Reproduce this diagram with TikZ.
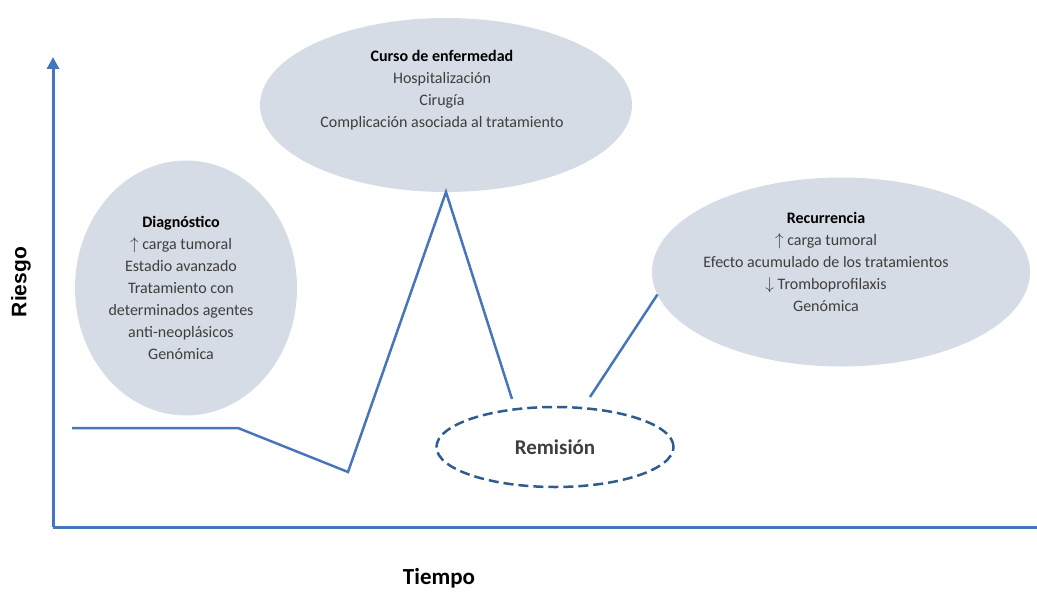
\documentclass[tikz,border=0pt]{standalone}
\usepackage{fontspec}
\setmainfont{Carlito}
\newfontfamily\axisfont{Liberation Sans}
\usetikzlibrary{shapes.geometric, arrows.meta, positioning}
\definecolor{lineblue}{RGB}{70,118,186}
\definecolor{bubblefill}{RGB}{214,220,229}
\definecolor{textgray}{RGB}{62,62,62}
\definecolor{dashblue}{RGB}{46,92,140}

\begin{document}
\begin{tikzpicture}[
    x=1pt, y=-1pt,
    bubble/.style={ellipse, fill=bubblefill, draw=none, inner sep=0pt, outer sep=0pt},
    info/.style={align=center, text=textgray, font=\fontsize{16}{22}\selectfont},
    riskline/.style={lineblue, line width=2.5pt},
    axis/.style={lineblue, line width=3pt},
    axislabel/.style={font=\fontsize{23}{26}\selectfont\bfseries}
]
\useasboundingbox (0,0) rectangle (1037,594);

\node[bubble, minimum width=222pt, minimum height=255pt] (diag) at (186,288) {};
\node[bubble, minimum width=372pt, minimum height=174pt] (curso) at (446,105) {};
\node[bubble, minimum width=378pt, minimum height=189pt] (recur) at (841,272) {};

\node[info] (diagtext) at (181,288) {\textbf{\textcolor{black}{Diagnóstico}}\\ $\uparrow$ carga tumoral\\ Estadio avanzado\\ Tratamiento con\\ determinados agentes\\ anti-neoplásicos\\ Genómica};
\node[info] (cursotext) at (442,90) {\textbf{\textcolor{black}{Curso de enfermedad}}\\ Hospitalización\\ Cirugía\\ Complicación asociada al tratamiento};
\node[info] (recurtext) at (826,262) {\textbf{\textcolor{black}{Recurrencia}}\\ $\uparrow$ carga tumoral\\ Efecto acumulado de los tratamientos\\ $\downarrow$ Tromboprofilaxis\\ Genómica};

\node[ellipse, draw=dashblue, dashed, dash pattern=on 10pt off 5pt, line width=2.5pt, minimum width=237pt, minimum height=80pt, font=\fontsize{21}{24}\selectfont\bfseries, text=textgray] (remision) at (555,447) {Remisión};

% axes
\coordinate (origin) at (53,527);
\coordinate (ytop) at (53,57);
\coordinate (xend) at (1037,527);
\draw[axis, -{Triangle[length=12pt, width=12pt]}] (origin) -- (ytop);
\draw[axis] (origin) -- (xend);
\node[font=\axisfont\fontsize{21}{24}\selectfont\bfseries, rotate=90] (riesgo) at (21,282) {Riesgo};
\node[axislabel] (tiempo) at (439,578) {Tiempo};

% risk course
\coordinate (start) at (72,428);
\coordinate (plateau) at (238,428);
\coordinate (dip) at (348,472);
\coordinate (remin) at (512,399);
\coordinate (remout) at (590,397);
\draw[riskline] (start) -- (plateau) -- (dip) -- (curso.south) -- (remin);
\draw[riskline] (remout) -- (recur.187);

\end{tikzpicture}
\end{document}
